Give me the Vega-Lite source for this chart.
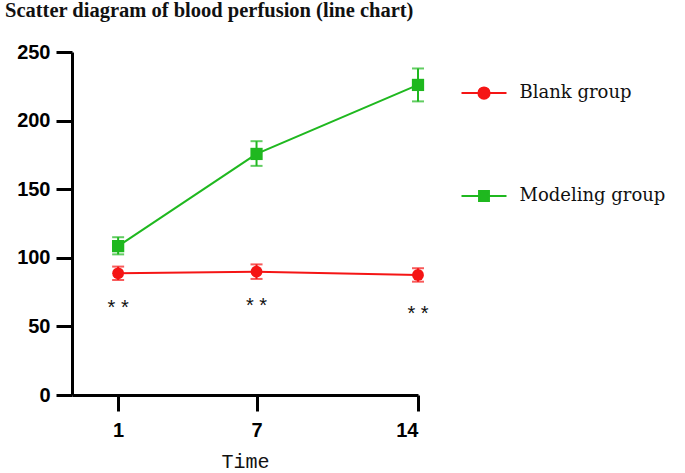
{
  "$schema": "https://vega.github.io/schema/vega-lite/v6.json",
  "width": 346,
  "height": 343,
  "autosize": {"type": "none"},
  "padding": {"left": 72, "top": 52, "right": 267, "bottom": 78},
  "background": "white",
  "title": {
    "text": "Scatter diagram of blood perfusion (line chart)",
    "anchor": "start",
    "frame": "group",
    "dx": -67,
    "offset": 21,
    "font": "Liberation Serif",
    "fontSize": 20.5,
    "fontWeight": "bold",
    "color": "#111111"
  },
  "config": {
    "view": {"stroke": null},
    "axis": {
      "grid": false,
      "domainColor": "#000000",
      "domainWidth": 3,
      "tickColor": "#000000",
      "tickWidth": 3,
      "tickSize": 16,
      "labelFont": "Liberation Sans",
      "labelFontWeight": "bold",
      "labelFontSize": 20,
      "labelColor": "#000000"
    }
  },
  "datasets": {
    "means": [
      {"time": 1, "group": "Blank group", "mean": 88.7, "low": 83.8, "high": 93.6},
      {"time": 7, "group": "Blank group", "mean": 89.9, "low": 84.6, "high": 95.2},
      {"time": 14, "group": "Blank group", "mean": 87.5, "low": 82.6, "high": 92.4},
      {"time": 1, "group": "Modeling group", "mean": 108.5, "low": 102.5, "high": 115},
      {"time": 7, "group": "Modeling group", "mean": 175.7, "low": 167, "high": 185},
      {"time": 14, "group": "Modeling group", "mean": 226, "low": 214, "high": 238}
    ],
    "stars": [
      {"time": 1, "y": 63.4, "label": "* *"},
      {"time": 7, "y": 64.9, "label": "* *"},
      {"time": 14, "y": 59, "label": "* *"}
    ]
  },
  "layer": [
    {
      "data": {"name": "means"},
      "mark": {"type": "rule", "strokeWidth": 2},
      "encoding": {
        "x": {"field": "time", "type": "quantitative", "scale": {"domain": [-1, 14], "nice": false, "zero": false},
          "axis": {"values": [1, 7, 14], "title": "Time", "titleFont": "Liberation Mono", "titleFontSize": 20, "titleFontWeight": "normal", "titleColor": "#111111", "titlePadding": 11, "labelPadding": 9}},
        "y": {"field": "low", "type": "quantitative", "scale": {"domain": [0, 250], "nice": false},
          "axis": {"values": [0, 50, 100, 150, 200, 250], "title": null, "labelPadding": 6}},
        "y2": {"field": "high"},
        "color": {"field": "group", "type": "nominal", "scale": {"domain": ["Blank group", "Modeling group"], "range": ["#f51515", "#1fb81f"]},
          "legend": {
            "orient": "none",
            "legendX": 388.5,
            "legendY": 17.5,
            "title": null,
            "padding": 0,
            "symbolSize": 2025,
            "symbolOpacity": 1,
            "symbolStrokeWidth": 2,
            "labelFont": "DejaVu Serif",
            "labelFontSize": 18,
            "labelColor": "#111111",
            "labelOffset": 12,
            "rowPadding": 69,
            "encode": {
              "symbols": {
                "update": {
                  "shape": {"signal": "datum.value == 'Blank group' ? 'M-1,0H1M-0.25,0A0.25,0.25 0 1,0 0.25,0A0.25,0.25 0 1,0 -0.25,0Z' : 'M-1,0H1M-0.22,-0.22H0.22V0.22H-0.22Z'"},
                  "fill": {"signal": "datum.value == 'Blank group' ? '#f51515' : '#1fb81f'"},
                  "stroke": {"signal": "datum.value == 'Blank group' ? '#f51515' : '#1fb81f'"},
                  "strokeWidth": {"value": 2},
                  "opacity": {"value": 1}
                }
              }
            }
          }
        }
      }
    },
    {
      "data": {"name": "means"},
      "mark": {"type": "tick", "orient": "horizontal", "size": 12, "thickness": 2},
      "encoding": {
        "x": {"field": "time", "type": "quantitative"},
        "y": {"field": "low", "type": "quantitative"},
        "color": {"field": "group", "type": "nominal"}
      }
    },
    {
      "data": {"name": "means"},
      "mark": {"type": "tick", "orient": "horizontal", "size": 12, "thickness": 2},
      "encoding": {
        "x": {"field": "time", "type": "quantitative"},
        "y": {"field": "high", "type": "quantitative"},
        "color": {"field": "group", "type": "nominal"}
      }
    },
    {
      "data": {"name": "means"},
      "mark": {"type": "line", "strokeWidth": 2},
      "encoding": {
        "x": {"field": "time", "type": "quantitative"},
        "y": {"field": "mean", "type": "quantitative"},
        "color": {"field": "group", "type": "nominal"}
      }
    },
    {
      "data": {"name": "means"},
      "transform": [{"filter": "datum.group == 'Blank group'"}],
      "mark": {"type": "circle", "opacity": 1, "size": 140},
      "encoding": {
        "x": {"field": "time", "type": "quantitative"},
        "y": {"field": "mean", "type": "quantitative"},
        "color": {"field": "group", "type": "nominal"}
      }
    },
    {
      "data": {"name": "means"},
      "transform": [{"filter": "datum.group == 'Modeling group'"}],
      "mark": {"type": "square", "opacity": 1, "size": 150},
      "encoding": {
        "x": {"field": "time", "type": "quantitative"},
        "y": {"field": "mean", "type": "quantitative"},
        "color": {"field": "group", "type": "nominal"}
      }
    },
    {
      "data": {"name": "stars"},
      "mark": {"type": "text", "font": "Liberation Sans", "fontSize": 20, "baseline": "middle", "align": "center", "color": "#111111"},
      "encoding": {
        "x": {"field": "time", "type": "quantitative"},
        "y": {"field": "y", "type": "quantitative"},
        "text": {"field": "label"}
      }
    }
  ]
}
